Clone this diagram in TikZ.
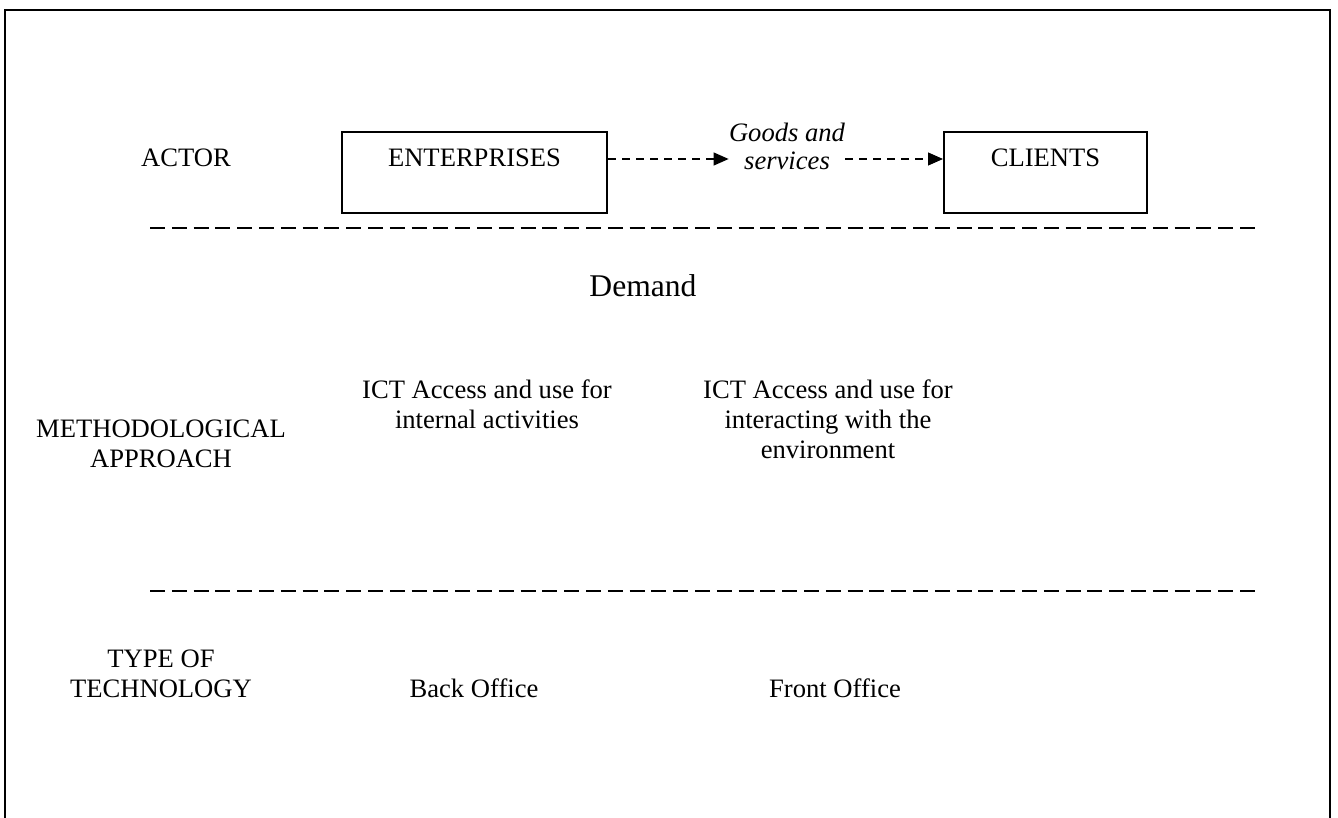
\documentclass[tikz,border=0pt]{standalone}
\usepackage{fontspec}
\setmainfont{Liberation Serif}
\usetikzlibrary{arrows.meta}

\begin{document}
\begin{tikzpicture}[x=0.5pt,y=-0.5pt,
  txt/.style={inner sep=0pt, font=\fontsize{13.3}{15}\selectfont, align=center, anchor=base},
  actorbox/.style={draw, line width=1pt, inner sep=0pt, minimum height=40.5pt,
    text height=6pt, text depth=11.5pt, font=\fontsize{13.3}{15}\selectfont},
  flow/.style={dash pattern=on 4pt off 3pt, line width=0.6pt,
    arrows={-Triangle[length=7.5pt,width=6.5pt]}},
  sep/.style={dash pattern=on 7.5pt off 3.4pt, line width=1pt}]
  % page
  \useasboundingbox (0,0) rectangle (1338,818);
  % frame (open at the bottom)
  \draw[line width=1pt] (5,818) -- (5,10) -- (1330,10) -- (1330,818);

  % ACTOR row
  \node[txt] (actor) at (186,167) {ACTOR};
  \node[actorbox, minimum width=132.5pt] (ent) at (474.5,172.5) {ENTERPRISES};
  \node[actorbox, minimum width=101.5pt] (cli) at (1045.5,172.5) {CLIENTS};
  \node[txt, font=\fontsize{13.3}{14}\itshape] (goods) at (787,170) {Goods and\\services};
  \coordinate (entout) at ([yshift=6.75pt]ent.east);
  \coordinate (cliin) at ([yshift=6.75pt]cli.west);
  \draw[flow] (entout) -- (entout -| goods.west);
  \draw[flow] (goods.east |- cliin) -- (cliin);

  % separators
  \draw[sep] (150,228) -- (1258,228);
  \draw[sep] (150,591) -- (1258,591);

  % METHODOLOGICAL APPROACH row (base = last line)
  \node[txt, font=\fontsize{15.8}{17}\selectfont] (demand) at (643,296) {Demand};
  \node[txt] (method) at (161,467) {METHODOLOGICAL\\APPROACH};
  \node[txt] (internal) at (487,428) {ICT Access and use for\\internal activities};
  \node[txt] (interact) at (828,458) {ICT Access and use for\\interacting with the\\environment};

  % TYPE OF TECHNOLOGY row
  \node[txt] (tech) at (161,697) {TYPE OF\\TECHNOLOGY};
  \node[txt] (back) at (474,697) {Back Office};
  \node[txt] (front) at (835,697) {Front Office};
\end{tikzpicture}
\end{document}
